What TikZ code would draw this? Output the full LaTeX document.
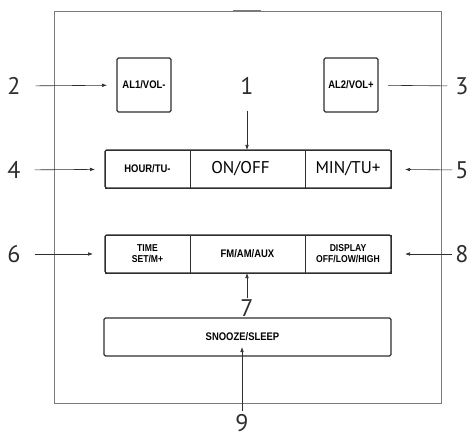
\documentclass[tikz,border=0pt]{standalone}
\usepackage{fontspec}
\setmainfont{PT Sans}
\newfontfamily\keyfont[FakeStretch=0.86]{Liberation Sans}
\usetikzlibrary{arrows.meta,positioning}
\definecolor{ink}{HTML}{2E2E2E}
\definecolor{casing}{HTML}{7A7A7A}

\begin{document}
\begin{tikzpicture}[x=1pt,y=-1pt,every node/.style={align=center,inner sep=0pt},num/.style={text=ink,font=\fontsize{24}{24}\selectfont},keycell/.style={draw=ink,line width=0.8pt,outer sep=0pt,minimum height=38pt,font=\keyfont\bfseries\fontsize{11}{11}\selectfont},twoline/.style={font=\keyfont\bfseries\fontsize{10}{11}\selectfont},bigkey/.style={font=\fontsize{17}{17}\selectfont},pointer/.style={-{Latex[length=5pt,width=3.6pt]},draw=ink,line width=0.6pt},outline/.style={draw=ink,line width=1.3pt,rounded corners=1.5pt}]
\useasboundingbox (0,0) rectangle (476,438);
% casing
\draw[casing,line width=1pt] (54,12) rectangle (441,403);
\draw[casing,line width=1.6pt] (233,11) -- (261,11);
% alarm keys
\node[keycell,outline,minimum width=54pt,minimum height=54pt] (al1) at (144,85) {AL1/VOL-};
\node[keycell,outline,minimum width=54pt,minimum height=54pt] (al2) at (351,85) {AL2/VOL+};
% first row
\node[keycell,minimum width=85pt] (hourtu) at (147.5,169) {HOUR/TU-};
\node[keycell,bigkey,minimum width=115pt,right=0pt of hourtu] (onoff) {ON/OFF\hspace*{14pt}};
\node[keycell,bigkey,minimum width=86pt,right=0pt of onoff] (mintu) {MIN/TU+};
\draw[outline] (hourtu.north west) rectangle (mintu.south east);
% second row
\node[keycell,twoline,minimum width=85pt,below=47pt of hourtu] (timeset) {TIME\\SET/M+};
\node[keycell,minimum width=115pt,right=0pt of timeset] (fmam) {FM/AM/AUX};
\node[keycell,twoline,minimum width=86pt,right=0pt of fmam] (display) {DISPLAY\\OFF/LOW/HIGH};
\draw[outline] (timeset.north west) rectangle (display.south east);
% snooze bar
\node[keycell,outline,minimum width=287pt,below=45pt of fmam] (snooze) {SNOOZE/SLEEP\hspace*{10pt}};
% callout numbers
\node[num] (n1) at (247,86) {1};
\node[num] (n2) at (14,86) {2};
\node[num] (n3) at (462,86) {3};
\node[num] (n4) at (14,170) {4};
\node[num] (n5) at (462,170) {5};
\node[num] (n6) at (14,254) {6};
\node[num] (n7) at (247,308) {7};
\node[num] (n8) at (462,254) {8};
\node[num] (n9) at (242,423) {9};
% leaders
\draw[pointer,shorten <=16pt] (n1) -- (onoff.north -| n1);
\draw[pointer,shorten <=15pt,shorten >=10pt] (n2) -- (al1);
\draw[draw=ink,line width=0.6pt,shorten <=8pt,shorten >=10pt] (n3) -- (al2);
\draw[pointer,shorten <=14pt,shorten >=10pt] (n4) -- (hourtu);
\draw[pointer,shorten <=3pt,shorten >=14pt] (n5) -- (mintu);
\draw[pointer,shorten <=14pt,shorten >=12pt] (n6) -- (timeset);
\draw[pointer,shorten <=1pt] (n7) -- (fmam.south -| n7);
\draw[pointer,shorten <=3pt,shorten >=14pt] (n8) -- (display);
\draw[pointer,shorten <=3pt,shorten >=10pt] (n9) -- (n9 |- snooze.center);
\end{tikzpicture}
\end{document}
